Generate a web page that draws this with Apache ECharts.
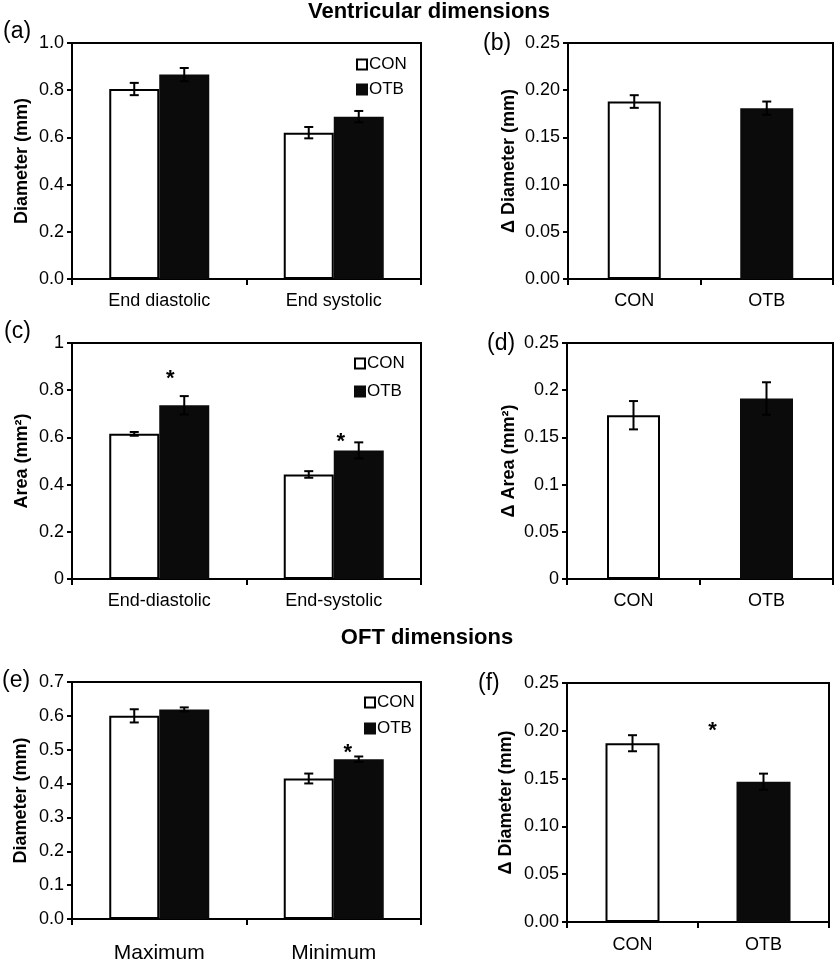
<!DOCTYPE html>
<html>
<head>
<meta charset="utf-8">
<script src="https://cdn.jsdelivr.net/npm/echarts@6/dist/echarts.min.js"></script>
<style>html,body{margin:0;padding:0;background:#fff}#c{width:837px;height:964px}</style>
</head>
<body>
<div id="c"></div>
<script>
// ---------- data ----------
const groups = ['CON', 'OTB'];
// (a) ventricular diameter
const catsA = ['End diastolic', 'End systolic'];
const conA = [0.805, 0.620];
const conAErr = [0.026, 0.024];
const otbA = [0.866, 0.688];
const otbAErr = [0.028, 0.024];
// (b) delta diameter
const catsB = ['CON', 'OTB'];
const valB = [0.188, 0.181];
const errB = [0.0067, 0.007];
// (c) area
const catsC = ['End-diastolic', 'End-systolic'];
const conC = [0.615, 0.443];
const conCErr = [0.008, 0.014];
const otbC = [0.736, 0.545];
const otbCErr = [0.039, 0.034];
const starsC = [[0, 0.870], [1, 0.602]];
// (d) delta area
const catsD = ['CON', 'OTB'];
const valD = [0.1735, 0.1912];
const errD = [0.015, 0.0172];
// (e) OFT diameter
const catsE = ['Maximum', 'Minimum'];
const conE = [0.600, 0.415];
const conEErr = [0.0195, 0.0146];
const otbE = [0.619, 0.472];
const otbEErr = [0.006, 0.008];
const starsE = [[1, 0.505]];
// (f) OFT delta diameter
const catsF = ['CON', 'OTB'];
const valF = [0.187, 0.1468];
const errF = [0.0084, 0.0084];
const starsF = [[1, 0.2052]];
// tick ranges
const ticksA = {min: 0, max: 1.0, interval: 0.2, dec: 1};
const ticksB = {min: 0, max: 0.25, interval: 0.05, dec: 2};
const ticksC = {min: 0, max: 1, interval: 0.2, dec: -1};
const ticksD = {min: 0, max: 0.25, interval: 0.05, dec: -1};
const ticksE = {min: 0, max: 0.7, interval: 0.1, dec: 1};
const ticksF = {min: 0, max: 0.25, interval: 0.05, dec: 2};

// ---------- styles ----------
const FF = '"Liberation Sans", Arial, Helvetica, sans-serif';
const INK = '#000';
const conStyle = {color: '#fff', borderColor: INK, borderWidth: 2};
const otbStyle = {color: '#0b0b0b', borderColor: '#0b0b0b', borderWidth: 2};

const panels = [
  {grid: {left: 72, top: 43, width: 349, height: 236}, cats: catsA, ticks: ticksA, yName: 'Diameter (mm)', nameGap: 41, xFont: 18, xMargin: 13},
  {grid: {left: 568, top: 43, width: 265, height: 236}, cats: catsB, ticks: ticksB, yName: 'Δ Diameter (mm)', nameGap: 50, xFont: 18, xMargin: 13},
  {grid: {left: 72, top: 343, width: 349, height: 236}, cats: catsC, ticks: ticksC, yName: 'Area (mm²)', nameGap: 41, xFont: 18, xMargin: 13},
  {grid: {left: 567, top: 343, width: 266, height: 236}, cats: catsD, ticks: ticksD, yName: 'Δ Area (mm²)', nameGap: 49, xFont: 18, xMargin: 13},
  {grid: {left: 72, top: 682, width: 349, height: 239}, cats: catsE, ticks: ticksE, yName: 'Diameter (mm)', nameGap: 42, xFont: 21, xMargin: 24},
  {grid: {left: 567, top: 683, width: 262, height: 239}, cats: catsF, ticks: ticksF, yName: 'Δ Diameter (mm)', nameGap: 52, xFont: 18, xMargin: 14}
];

const grids = [], xAxes = [], yAxes = [], series = [];
panels.forEach((p, i) => {
  grids.push(Object.assign({show: true, borderColor: INK, borderWidth: 2, backgroundColor: 'transparent'}, p.grid));
  xAxes.push({
    type: 'category', gridIndex: i, data: p.cats,
    axisLine: {show: true, lineStyle: {color: INK, width: 2}},
    axisTick: {show: true, inside: false, length: 6, lineStyle: {color: INK, width: 2}},
    axisLabel: {color: INK, fontSize: p.xFont, fontFamily: FF, margin: p.xMargin, interval: 0},
    splitLine: {show: false}
  });
  const t = p.ticks;
  yAxes.push({
    type: 'value', gridIndex: i, min: t.min, max: t.max, interval: t.interval,
    name: p.yName, nameLocation: 'middle', nameGap: p.nameGap,
    nameTextStyle: {color: INK, fontSize: 18, fontWeight: 'bold', fontFamily: FF},
    axisLine: {show: true, lineStyle: {color: INK, width: 2}},
    axisTick: {show: true, inside: false, length: 5, lineStyle: {color: INK, width: 2}},
    axisLabel: {color: INK, fontSize: 18, fontFamily: FF, margin: 8,
      formatter: v => t.dec >= 0 ? v.toFixed(t.dec) : String(parseFloat(v.toFixed(4)))},
    splitLine: {show: false}
  });
});

function errSeries(gi, vals, errs, dx) {
  return {
    type: 'custom', xAxisIndex: gi, yAxisIndex: gi, z: 10, silent: true,
    encode: {x: 0, y: 1},
    data: vals.map((v, k) => [k, v, errs[k]]),
    renderItem: (params, api) => {
      const k = api.value(0), v = api.value(1), e = api.value(2);
      const top = api.coord([k, v + e]), bot = api.coord([k, v - e]);
      const x = top[0] + dx, h = 4.5;
      const st = {stroke: INK, lineWidth: 2};
      return {type: 'group', children: [
        {type: 'line', shape: {x1: x, y1: top[1], x2: x, y2: bot[1]}, style: st},
        {type: 'line', shape: {x1: x - h, y1: top[1], x2: x + h, y2: top[1]}, style: st},
        {type: 'line', shape: {x1: x - h, y1: bot[1], x2: x + h, y2: bot[1]}, style: st}
      ]};
    }
  };
}
function starSeries(gi, stars, dxs) {
  return {
    type: 'custom', xAxisIndex: gi, yAxisIndex: gi, z: 12, silent: true,
    encode: {x: 0, y: 1},
    data: stars,
    renderItem: (params, api) => {
      const c = api.coord([api.value(0), api.value(1)]);
      return {type: 'text', x: c[0] + dxs[params.dataIndex], y: c[1] + 5,
        style: {text: '*', fontSize: 22, fontWeight: 'bold', fontFamily: FF, fill: INK, align: 'center', verticalAlign: 'middle'}};
    }
  };
}
function groupedPanel(gi, con, conErr, otb, otbErr, bw) {
  series.push({type: 'bar', name: 'CON', xAxisIndex: gi, yAxisIndex: gi, data: con, barWidth: bw, barGap: '0%', itemStyle: conStyle});
  series.push({type: 'bar', name: 'OTB', xAxisIndex: gi, yAxisIndex: gi, data: otb, barWidth: bw, barGap: '0%', itemStyle: otbStyle});
  series.push(errSeries(gi, con, conErr, -bw / 2));
  series.push(errSeries(gi, otb, otbErr, bw / 2));
}
function singlePanel(gi, vals, errs, bw) {
  series.push({type: 'bar', name: 'CON', xAxisIndex: gi, yAxisIndex: gi, data: [vals[0], null], barWidth: bw, barGap: '-100%', itemStyle: conStyle});
  series.push({type: 'bar', name: 'OTB', xAxisIndex: gi, yAxisIndex: gi, data: [null, vals[1]], barWidth: bw, barGap: '-100%', itemStyle: otbStyle});
  series.push(errSeries(gi, vals, errs, 0));
}

groupedPanel(0, conA, conAErr, otbA, otbAErr, 50);
singlePanel(1, valB, errB, 53);
groupedPanel(2, conC, conCErr, otbC, otbCErr, 50);
singlePanel(3, valD, errD, 53);
groupedPanel(4, conE, conEErr, otbE, otbEErr, 50);
singlePanel(5, valF, errF, 54);
series.push(starSeries(2, starsC, [11, 7]));
series.push(starSeries(4, starsE, [14]));
series.push(starSeries(5, starsF, [-51]));

function legendAt(left, top, gap) {
  return {show: true, orient: 'vertical', left: left, top: top, padding: 0, itemGap: gap,
    itemWidth: 10, itemHeight: 10, icon: 'rect', selectedMode: false,
    data: groups, textStyle: {color: INK, fontSize: 17, fontFamily: FF, padding: [0, 0, 0, -3]}};
}

function txt(x, y, s, size, bold, align) {
  return {type: 'text', x: x, y: y, silent: true,
    style: {text: s, fontSize: size, fontWeight: bold ? 'bold' : 'normal', fontFamily: FF, fill: INK,
      align: align || 'left', verticalAlign: 'middle'}};
}

const option = {
  animation: false,
  backgroundColor: '#fff',
  grid: grids, xAxis: xAxes, yAxis: yAxes, series: series,
  legend: [legendAt(356, 56, 8), legendAt(354, 355, 11), legendAt(364, 694, 9)],
  graphic: [
    txt(429, 12, 'Ventricular dimensions', 22, true, 'center'),
    txt(427, 638, 'OFT dimensions', 22, true, 'center'),
    txt(3, 32, '(a)', 23),
    txt(483, 44, '(b)', 23),
    txt(4, 332, '(c)', 23),
    txt(487, 344, '(d)', 23),
    txt(2, 681, '(e)', 23),
    txt(478, 684, '(f)', 23)
  ]
};
const chart = echarts.init(document.getElementById('c'), null, {renderer: 'canvas'});
chart.setOption(option);
</script>
</body>
</html>
